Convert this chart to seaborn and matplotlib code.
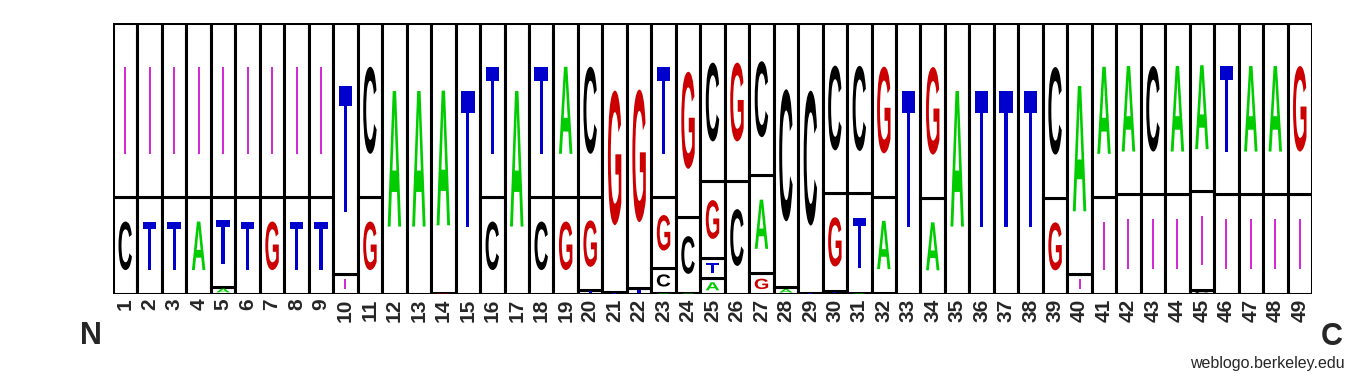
import numpy as np
import matplotlib
matplotlib.use("Agg")
import matplotlib.pyplot as plt
import seaborn as sns
from matplotlib.textpath import TextPath
from matplotlib.font_manager import FontProperties
from matplotlib.patches import PathPatch
from matplotlib.transforms import Affine2D

# ---------------- data (bottom -> top per position) ----------------
positions = list(range(1, 50))
stack_letters = [
    "C-", "T-", "T-", "A-", "AT-", "T-", "G-", "T-", "T-", "-T",
    "GC", "A", "A", "GA", "T", "CT", "A", "CT", "GA", "TGC",
    "TG", "TG", "ACGT", "ACG", "ATGC", "CG", "GAC", "AC", "TC", "TGC",
    "ATC", "CAG", "T", "AG", "A", "T", "T", "T", "GC", "-A",
    "-A", "-A", "-C", "-A", "C-A", "-T", "-A", "-A", "-G",
]
stack_probs = [
    [0.358, 0.642], [0.358, 0.642], [0.358, 0.642], [0.358, 0.642],
    [0.028, 0.330, 0.642], [0.358, 0.642], [0.358, 0.642], [0.358, 0.642],
    [0.358, 0.642], [0.074, 0.926],
    [0.358, 0.642], [1.0], [1.0], [0.006, 0.994], [1.0],
    [0.358, 0.642], [1.0], [0.358, 0.642], [0.358, 0.642], [0.016, 0.342, 0.642],
    [0.007, 0.993], [0.022, 0.978], [0.006, 0.090, 0.262, 0.642],
    [0.006, 0.278, 0.716], [0.059, 0.074, 0.286, 0.581], [0.419, 0.581],
    [0.077, 0.363, 0.560], [0.026, 0.974], [0.005, 0.995], [0.012, 0.363, 0.625],
    [0.006, 0.366, 0.628], [0.004, 0.356, 0.640], [1.0], [0.354, 0.646], [1.0],
    [1.0], [1.0], [1.0], [0.354, 0.646], [0.075, 0.925],
    [0.358, 0.642], [0.369, 0.631], [0.369, 0.631], [0.369, 0.631],
    [0.016, 0.365, 0.619], [0.369, 0.631], [0.369, 0.631], [0.369, 0.631],
    [0.369, 0.631],
]
tick_labels = [str(p) for p in positions]
letter_colors = {"A": "#00CC00", "C": "#000000", "G": "#CC0000",
                 "T": "#0000CC", "-": "#CC00CC"}

# ---------------- style ----------------
sns.set_theme(style="white")
plt.rcParams["font.family"] = ["Liberation Sans", "DejaVu Sans"]

fig = plt.figure(figsize=(13.6, 3.76), dpi=100)
ax = fig.add_axes([113 / 1360, (376 - 294.3) / 376, 1199 / 1360, 271 / 376])

glyph_font = FontProperties(family="Liberation Sans", weight="bold")
glyph_cache = {}


def glyph(letter):
    if letter not in glyph_cache:
        tp = TextPath((0, 0), letter, size=100, prop=glyph_font)
        glyph_cache[letter] = (tp, tp.get_extents())
    return glyph_cache[letter]


# rows for boxes
xs, bottoms, heights, labs = [], [], [], []
for pos, lets, probs in zip(positions, stack_letters, stack_probs):
    b = 0.0
    for l, p in zip(lets, probs):
        xs.append(pos)
        bottoms.append(b)
        heights.append(p)
        labs.append(l)
        b += p

ax.bar(xs, heights, bottom=bottoms, width=1.0, facecolor="white",
       edgecolor="black", linewidth=2.2, zorder=2)

for x, b, h, l in zip(xs, bottoms, heights, labs):
    cy = b + h / 2
    gh = h * 0.5
    if l == "-":
        ax.plot([x, x], [cy - gh / 2, cy + gh / 2], color=letter_colors[l],
                lw=1.2, solid_capstyle="butt", zorder=3)
        continue
    tp, ext = glyph(l)
    gw = 0.55
    tr = (Affine2D().translate(-ext.x0, -ext.y0)
          .scale(gw / ext.width, gh / ext.height)
          .translate(x - gw / 2, cy - gh / 2))
    patch = PathPatch(tr.transform_path(tp), facecolor=letter_colors[l],
                      edgecolor="none", zorder=3)
    ax.add_patch(patch)

ax.set_xlim(0.5, 49.5)
ax.set_ylim(0, 1)
ax.set_xticks(positions)
ax.set_xticklabels(tick_labels, rotation=90, fontsize=15, fontweight="bold")
ax.tick_params(axis="x", length=0, pad=3)
ax.set_yticks([])
for s in ax.spines.values():
    s.set_visible(False)

fig.text(91 / 1360, (376 - 344) / 376, "N", ha="center", va="baseline",
         fontsize=22, fontweight="bold")
fig.text(1332 / 1360, (376 - 345) / 376, "C", ha="center", va="baseline",
         fontsize=22, fontweight="bold")
fig.text(1345 / 1360, (376 - 368) / 376, "weblogo.berkeley.edu", ha="right",
         va="baseline", fontsize=11.5)

fig.savefig("out.png", dpi=100, facecolor="white")
